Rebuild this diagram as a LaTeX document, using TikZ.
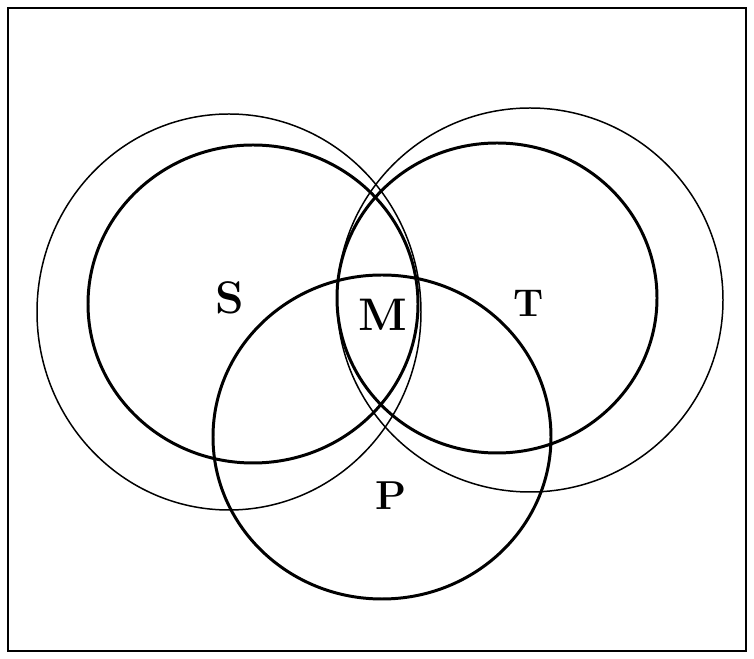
\documentclass[tikz,border=0pt]{standalone}
\usepackage{tikz}

\begin{document}
\begin{tikzpicture}[x=0.02cm, y=0.02cm,
    outerring/.style={line width=0.85pt},
    setring/.style={line width=1.7pt},
    letter/.style={font=\fontsize{22}{26}\selectfont\bfseries, inner sep=0pt}]

  \useasboundingbox (0,0) rectangle (754,659);
  \draw[line width=1.1pt] (8,8) rectangle (746,651);

  % Outer circles
  \draw[outerring] (229,347) ellipse [x radius=192, y radius=198];
  \draw[outerring] (530,359) ellipse [x radius=193, y radius=192];

  % S, T, P
  \draw[setring] (253,355) ellipse [x radius=165, y radius=159];
  \draw[setring] (497,361) ellipse [x radius=160, y radius=155];
  \draw[setring] (382,222) ellipse [x radius=169, y radius=162];

  % Labels
  \node[letter, font=\fontsize{26}{30}\selectfont\bfseries] (S) at (230,361) {S};
  \node[letter] (T) at (529,356) {T};
  \node[letter, font=\fontsize{26}{30}\selectfont\bfseries] (M) at (383,344) {M};
  \node[letter, font=\fontsize{23}{27}\selectfont\bfseries] (P) at (391,163) {P};

\end{tikzpicture}
\end{document}
